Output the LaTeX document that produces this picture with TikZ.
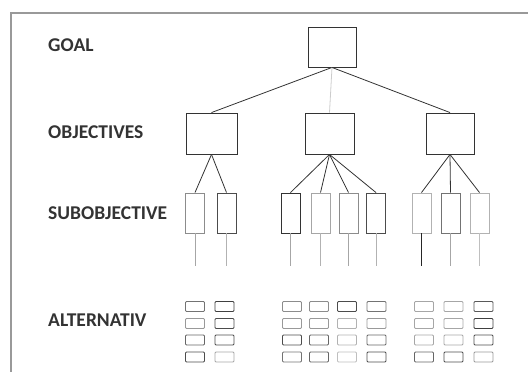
\documentclass[tikz,border=0pt]{standalone}
\usepackage{fontspec}
\setmainfont{Carlito}
\begin{document}
\begin{tikzpicture}[x=1pt,y=-1pt,
  lab/.style={anchor=west,inner sep=0pt,text=black!80,font=\bfseries\fontsize{19.5}{20}\selectfont},
  bigbox/.style={draw=black!80,line width=0.9pt,minimum width=49pt,minimum height=41pt,inner sep=0pt},
  subbox/.style={line width=0.9pt,minimum width=19pt,minimum height=40pt,inner sep=0pt},
  altbox/.style={line width=0.9pt,minimum width=19pt,minimum height=10pt,inner sep=0pt,rounded corners=1pt},
  link/.style={draw=black!80,line width=0.8pt},
  stem/.style={line width=0.9pt}]
\useasboundingbox (0,0) rectangle (528,372);
\draw[black!40,line width=1.3pt] (11,372) -- (11,13) -- (528,13);
% labels
\node[lab] (lg) at (48,45.5) {GOAL};
\node[lab] (lo) at (48,132.5) {OBJECTIVES};
\node[lab] (ls) at (48,213) {SUBOBJECTIVE};
\node[lab] (la) at (48,320) {ALTERNATIV};
% goal and objectives
\node[bigbox,minimum width=48pt,minimum height=40pt] (g) at (332,47) {};
\node[bigbox,minimum width=51pt] (o1) at (211.5,133.5) {};
\node[bigbox] (o2) at (329.5,133.5) {};
\node[bigbox,minimum width=48pt] (o3) at (450,133.5) {};
\draw[link] (g.south) -- (o1.north);
\draw[link,draw=black!20] (g.south) -- (o2.north);
\draw[link] (g.south) -- (o3.north);
% subobjectives
\foreach \n/\x/\c/\d in {1/195/45/35,2/226.5/70/30,3/290.5/80/35,4/320.5/35/30,5/348.5/45/35,6/376/70/30,7/421.5/30/85,8/450.5/55/35,9/479.5/30/25}{
  \node[subbox,draw=black!\c] (s\n) at (\x,213) {};
  \draw[stem,draw=black!\d] (s\n.south) -- ++(0,33);
}
\foreach \n in {1,2}{\draw[link] (o1.south) -- (s\n.north);}
\foreach \n in {3,4,5,6}{\draw[link] (o2.south) -- (s\n.north);}
\foreach \n in {7,8,9}{\draw[link] (o3.south) -- (s\n.north);}
% alternatives
\foreach \i/\x/\ca/\cb/\cc/\cd in {1/195/55/40/60/70,2/224.5/75/70/70/35,3/292/45/40/70/55,4/319/45/40/60/60,5/347/70/30/30/25,6/376.5/55/40/60/70,7/424/35/35/35/60,8/453.5/35/35/35/70,9/483.5/65/75/70/40}{
  \node[altbox,draw=black!\ca] (a\i-1) at (\x,306.5) {};
  \node[altbox,draw=black!\cb] (a\i-2) at (\x,323.5) {};
  \node[altbox,draw=black!\cc] (a\i-3) at (\x,340) {};
  \node[altbox,draw=black!\cd] (a\i-4) at (\x,357) {};
}
\end{tikzpicture}
\end{document}
